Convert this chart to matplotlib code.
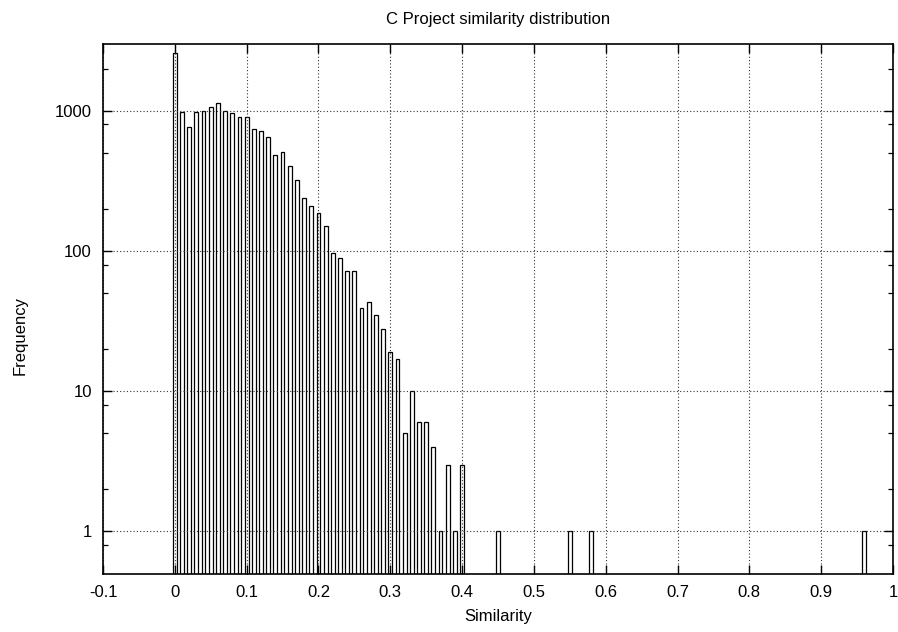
import matplotlib
matplotlib.use("Agg")
import matplotlib.pyplot as plt
from matplotlib.ticker import FixedLocator, NullFormatter

plt.rcParams['font.family'] = ['Liberation Sans', 'DejaVu Sans']

similarity = [0.00, 0.01, 0.02, 0.03, 0.04, 0.05, 0.06, 0.07, 0.08, 0.09,
              0.10, 0.11, 0.12, 0.13, 0.14, 0.15, 0.16, 0.17, 0.18, 0.19,
              0.20, 0.21, 0.22, 0.23, 0.24, 0.25, 0.26, 0.27, 0.28, 0.29,
              0.30, 0.31, 0.32, 0.33, 0.34, 0.35, 0.36, 0.37, 0.38, 0.39,
              0.40, 0.45, 0.55, 0.58, 0.96]
frequency = [2600, 980, 765, 985, 1000, 1070, 1135, 1000, 963, 906,
             902, 744, 724, 650, 486, 513, 407, 322, 238, 211,
             186, 152, 97, 89, 72, 72, 39, 43, 35, 28,
             19, 17, 5, 10, 6, 6, 4, 1, 3, 1,
             3, 1, 1, 1, 1]

xticks = [-0.1, 0, 0.1, 0.2, 0.3, 0.4, 0.5, 0.6, 0.7, 0.8, 0.9, 1.0]
xticklabels = ["-0.1", "0", "0.1", "0.2", "0.3", "0.4", "0.5", "0.6", "0.7", "0.8", "0.9", "1"]
yticks = [1, 10, 100, 1000]
yticklabels = ["1", "10", "100", "1000"]
yminor = [0.8, 2, 5, 8, 20, 50, 80, 200, 500, 800, 2000]

FS = 12

fig = plt.figure(figsize=(8.98, 6.32), dpi=100)
ax = fig.add_axes([103/898, 1-573.7/632, (893-103)/898, (573.7-44)/632])

ax.set_yscale('log')
ax.set_xlim(-0.1, 1.0)
ax.set_ylim(0.5, 3000)

ax.set_axisbelow(False)
ax.grid(True, which='major', linestyle=(0, (1, 2)), color='#333333', linewidth=0.8)

ax.bar(similarity, frequency, width=0.0052, bottom=0.0, facecolor='white',
       edgecolor='black', linewidth=0.9, zorder=1)

ax.set_xticks(xticks)
ax.set_xticklabels(xticklabels)
ax.set_yticks(yticks)
ax.set_yticklabels(yticklabels)
ax.yaxis.set_minor_locator(FixedLocator(yminor))
ax.yaxis.set_minor_formatter(NullFormatter())
ax.xaxis.set_minor_locator(FixedLocator([]))

ax.tick_params(axis='both', which='major', direction='in', length=6.5, width=1.0,
               top=True, right=True, labelsize=FS)
ax.tick_params(axis='x', which='major', pad=8)
ax.tick_params(axis='y', which='major', pad=8)
ax.tick_params(axis='y', which='minor', direction='in', length=3.3, width=0.9,
               left=True, right=True)

for s in ax.spines.values():
    s.set_linewidth(1.2)
    s.set_zorder(5)

fig.text(498/898, 1-24/632, "C Project similarity distribution", ha='center', va='baseline', fontsize=FS)
fig.text(498/898, 1-621.5/632, "Similarity", ha='center', va='baseline', fontsize=FS)
fig.text(20/898, 1-336/632, "Frequency", ha='center', va='center', rotation=90, fontsize=FS)

fig.savefig("out.png", dpi=100)
